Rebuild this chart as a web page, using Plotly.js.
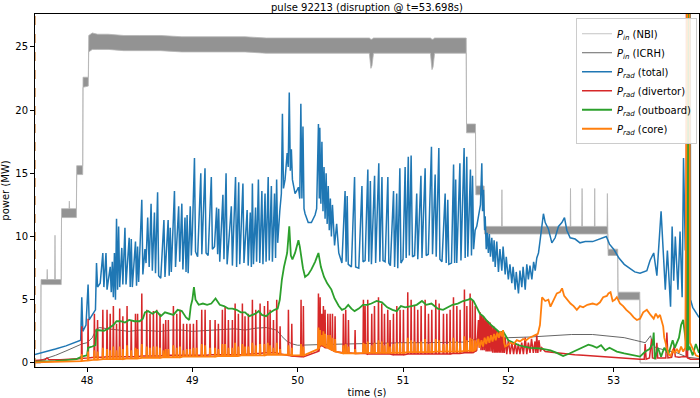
<!DOCTYPE html>
<html><head><meta charset="utf-8">
<script src="https://cdn.plot.ly/plotly-3.0.1.min.js"></script>
<style>html,body{margin:0;padding:0;background:#fff}#chart{width:700px;height:398px}</style>
</head><body><div id="chart"></div>
<script>
// ---------- NBI input power (oscillating band: lower / upper envelope) ----------
const nbiT = [47.50,47.561,47.563,47.619,47.622,47.625,47.693,47.696,47.699,47.755,47.758,47.829,47.832,47.835,47.899,47.902,47.959,47.962,48.012,48.016,48.05,48.10,48.20,48.35,48.50,48.70,48.90,49.10,49.30,49.50,49.70,49.90,50.10,50.30,50.50,50.68,50.695,50.705,50.72,50.90,51.10,51.26,51.275,51.285,51.30,51.45,51.600,51.603,51.688,51.691,51.770,51.773,51.936,51.939,51.942,52.20,52.45,52.587,52.590,52.593,52.697,52.700,52.703,52.817,52.820,52.823,52.937,52.940,52.944,52.947,53.038,53.041,53.248,53.251,53.81];
const nbiHi = [0,0,6.6,6.6,7.4,6.6,6.6,10.1,6.6,6.6,12.2,12.2,12.8,12.2,12.2,15.6,15.6,22.6,22.6,25.9,26.1,26.0,26.0,25.9,25.9,25.9,25.8,25.8,25.8,25.8,25.7,25.7,25.7,25.7,25.7,25.7,25.6,25.6,25.7,25.7,25.7,25.7,25.6,25.6,25.7,25.7,25.7,18.9,18.9,14.0,14.0,10.8,10.8,13.7,10.8,10.8,10.8,10.8,13.8,10.8,10.8,13.8,10.8,10.8,13.8,10.8,10.8,13.4,10.8,9.0,9.0,5.6,5.6,0,0];
const nbiLo = [0,0,6.2,6.2,6.2,6.2,6.2,6.2,6.2,6.2,11.5,11.5,11.5,11.5,11.5,14.9,14.9,21.8,21.9,24.6,24.8,24.8,24.8,24.7,24.7,24.7,24.6,24.6,24.6,24.6,24.5,24.5,24.5,24.5,24.5,24.5,23.3,23.5,24.5,24.5,24.5,24.5,23.2,23.4,24.5,24.5,24.5,18.2,18.2,13.3,13.3,10.2,10.2,10.2,10.2,10.2,10.2,10.2,10.2,10.2,10.2,10.2,10.2,10.2,10.2,10.2,10.2,10.2,10.2,8.5,8.5,5.0,5.0,0,0];

// ---------- ICRH input power ----------
const icrhT = [47.50,47.60,47.70,47.80,47.90,47.95,48.00,48.05,48.09,48.12,48.20,48.30,48.40,48.50,48.60,48.70,48.80,48.90,49.00,49.10,49.20,49.30,49.40,49.50,49.60,49.70,49.80,49.85,49.90,49.95,50.00,50.20,50.40,50.60,50.80,51.00,51.20,51.40,51.60,51.70,51.80,52.00,52.20,52.40,52.60,52.80,53.00,53.10,53.20,53.30,53.35,53.37,53.40,53.45,53.50,53.60,53.70,53.81];
const icrhY = [0.05,0.3,0.6,0.95,1.3,1.5,1.6,2.0,2.7,2.8,2.7,2.6,2.5,2.6,2.55,2.5,2.6,2.6,2.5,2.55,2.6,2.6,2.7,2.6,2.75,2.8,2.6,2.1,1.7,1.5,1.4,1.45,1.5,1.55,1.55,1.6,1.6,1.6,1.65,1.9,1.95,2.0,2.05,2.15,2.25,2.25,2.1,2.0,1.8,1.6,2.15,1.5,1.2,1.1,1.0,0.8,0.45,0.35];

// ---------- Prad total ----------
const totT = [47.50,47.60,47.70,47.80,47.90,47.94,47.95,47.96,47.99,48.01,48.02,48.05,48.08,48.09,48.10,48.125,48.15,48.16,48.18,48.19,48.22,48.23,48.24,48.25,48.26,48.27,48.28,48.29,48.30,48.31,48.33,48.34,48.36,48.37,48.40,48.41,48.42,48.43,48.46,48.47,48.48,48.49,48.52,48.53,48.55,48.56,48.576,48.59,48.608,48.62,48.64,48.65,48.67,48.68,48.70,48.73,48.74,48.77,48.78,48.79,48.80,48.83,48.84,48.87,48.88,48.90,48.91,48.93,48.94,48.95,48.96,48.98,48.99,49.00,49.02,49.03,49.05,49.08,49.09,49.12,49.13,49.15,49.18,49.19,49.21,49.23,49.24,49.25,49.26,49.29,49.30,49.32,49.33,49.37,49.38,49.41,49.42,49.44,49.45,49.48,49.49,49.52,49.53,49.55,49.56,49.57,49.58,49.60,49.61,49.627,49.64,49.66,49.67,49.69,49.70,49.72,49.73,49.75,49.76,49.78,49.79,49.80,49.81,49.83,49.845,49.855,49.865,49.88,49.90,49.91,49.92,49.93,49.94,49.95,49.975,49.99,50.007,50.02,50.03,50.04,50.05,50.06,50.07,50.10,50.13,50.165,50.18,50.197,50.205,50.21,50.22,50.23,50.24,50.25,50.26,50.27,50.28,50.29,50.30,50.31,50.32,50.33,50.35,50.37,50.39,50.42,50.45,50.46,50.47,50.48,50.51,50.54,50.55,50.58,50.61,50.62,50.64,50.666,50.675,50.69,50.70,50.73,50.74,50.77,50.78,50.80,50.81,50.83,50.856,50.865,50.88,50.91,50.92,50.94,50.95,50.97,50.98,51.00,51.02,51.03,51.05,51.06,51.077,51.09,51.11,51.13,51.14,51.17,51.18,51.21,51.22,51.24,51.27,51.28,51.305,51.315,51.34,51.35,51.37,51.40,51.41,51.425,51.435,51.46,51.48,51.49,51.50,51.51,51.54,51.55,51.58,51.59,51.605,51.615,51.64,51.65,51.66,51.67,51.685,51.70,51.716,51.735,51.748,51.755,51.764,51.775,51.78,51.79,51.80,51.81,51.82,51.83,51.843,51.855,51.865,51.875,51.89,51.906,51.92,51.938,51.95,51.97,51.98,52.00,52.015,52.033,52.045,52.065,52.075,52.096,52.11,52.128,52.14,52.16,52.175,52.19,52.205,52.223,52.24,52.255,52.27,52.286,52.30,52.318,52.333,52.35,52.38,52.413,52.444,52.476,52.508,52.533,52.555,52.587,52.634,52.68,52.73,52.80,52.87,52.90,52.93,52.96,53.00,53.05,53.10,53.15,53.20,53.25,53.315,53.345,53.38,53.41,53.45,53.49,53.51,53.54,53.555,53.57,53.585,53.61,53.63,53.65,53.663,53.68,53.70,53.71,53.715,53.725,53.73,53.75,53.78,53.81];
const totY = [0.65,0.85,1.1,1.35,1.65,1.8,5.2,2.5,3.0,6.2,3.4,3.8,4.2,7.9,6.0,6.3,8.7,6.0,8.7,5.8,7.6,5.6,8.0,5.2,8.7,5.0,11.4,5.8,10.8,6.0,9.1,6.2,10.7,6.2,9.9,6.0,9.8,6.0,9.6,6.1,9.2,6.4,12.9,7.0,9.0,7.9,11.5,7.6,12.6,7.3,11.9,7.1,13.5,6.9,6.7,11.3,6.8,11.3,6.9,10.7,7.2,13.6,7.6,12.4,8.0,12.6,7.4,11.5,7.2,11.7,7.1,12.4,8.5,10.3,16.2,8.8,8.4,15.0,8.6,15.4,8.7,8.5,14.7,9.0,9.2,12.3,8.6,12.2,8.0,13.3,8.2,15.0,7.8,12.4,7.7,14.7,7.6,14.3,7.8,14.2,7.9,12.1,7.7,11.9,7.6,14.2,7.8,12.3,8.0,14.5,7.9,13.6,7.8,13.4,8.0,14.7,8.1,14.0,8.0,13.4,8.3,14.5,9.5,12.0,13.4,19.7,13.8,14.5,16.6,15.5,21.4,15.2,16.9,14.5,13.4,13.6,13.9,13.0,20.5,13.0,18.7,12.2,11.8,11.1,11.1,11.7,12.2,18.9,13.0,18.6,12.6,17.5,12.0,15.5,11.4,15.0,11.0,14.0,10.5,13.0,10.0,12.5,9.3,11.0,8.7,7.9,13.6,8.0,13.2,7.8,7.6,14.7,7.6,7.5,14.0,8.0,8.1,15.3,8.0,14.4,7.8,14.8,7.9,15.8,8.0,14.7,8.1,8.0,14.7,7.9,7.7,13.6,7.6,13.4,7.5,15.4,7.9,8.2,15.5,8.3,16.3,8.5,16.4,8.4,8.5,13.4,8.2,14.8,8.3,15.4,8.5,8.6,17.1,8.6,14.9,8.4,17.0,8.2,8.0,13.4,7.9,12.9,7.8,7.9,15.7,7.9,14.5,7.9,15.8,8.1,17.0,8.3,16.3,8.4,15.3,8.5,14.8,9.0,10.5,10.8,11.5,12.5,15.8,12.0,13.7,10.5,11.6,9.0,10.3,8.7,10.2,8.4,9.9,8.0,9.7,7.6,9.6,7.2,9.0,7.3,9.2,7.0,8.4,6.6,7.8,6.3,7.6,5.8,7.2,5.5,7.3,6.0,7.6,5.8,7.8,6.6,7.7,6.6,8.0,7.3,8.3,8.7,9.6,10.6,11.8,11.1,10.6,9.5,9.9,10.8,11.1,11.5,10.5,9.9,9.8,9.5,9.6,9.6,9.8,9.9,10.0,9.4,9.0,8.3,7.8,7.5,7.2,7.1,7.3,8.1,8.7,6.9,12.0,5.8,8.9,4.45,10.8,6.5,10.0,5.8,10.4,5.2,16.2,8.9,14.7,6.0,40,40,5.0,4.4,4.0,3.6];

// ---------- ELM times shared by divertor and core channels ----------
const elmT = [47.950,48.010,48.070,48.100,48.150,48.190,48.220,48.250,48.280,48.310,48.340,48.380,48.420,48.460,48.480,48.520,48.567,48.598,48.630,48.662,48.693,48.725,48.747,48.772,48.820,48.852,48.883,48.915,48.947,48.978,49.010,49.041,49.089,49.121,49.168,49.216,49.247,49.285,49.311,49.342,49.380,49.406,49.437,49.475,49.500,49.532,49.570,49.602,49.643,49.684,49.716,49.738,49.770,49.801,49.833,49.912,49.944,50.032,50.054,50.197,50.213,50.229,50.244,50.260,50.286,50.308,50.330,50.355,50.434,50.456,50.482,50.545,50.624,50.640,50.665,50.703,50.729,50.767,50.798,50.824,50.855,50.877,50.909,50.941,50.972,51.004,51.045,51.077,51.109,51.140,51.172,51.210,51.242,51.273,51.311,51.343,51.384,51.416,51.447,51.479,51.511,51.542,51.583,51.606,51.637,51.659,51.685];

// ---------- Prad divertor ----------
const divPreT = [47.50,47.60,47.62,47.64,47.75,47.85,47.93];
const divPreY = [0.2,0.25,0.4,0.25,0.25,0.3,0.35];
const divPeak = [2.9,3.5,3.9,3.4,4.2,4.2,3.9,4.5,3.1,4.3, 3.7,4.5,3.4,3.9,3.9,5.5,4.2,3.9,4.1,4.2, 3.9,3.1,3.4,3.4,4.5,3.9,4.2,3.1,3.1,3.1, 3.1,3.4,4.2,4.2,3.4,3.4,3.1,4.2,4.5,3.4, 3.4,4.7,3.9,4.7,3.7,3.9,5.0,4.2,4.7,4.5, 4.9,4.2,3.4,5.0,2.9,4.2,3.1,5.0,4.5,5.5, 5.2,3.9,4.5,4.2,3.9,3.9,3.9,3.7,3.9,4.2, 3.4,2.6,5.0,4.5,5.0,3.9,4.5,5.2,4.7,3.9, 4.2,3.4,3.9,4.5,4.2,4.2,5.6,5.0,4.5,4.2, 4.5,5.0,3.9,4.2,5.0,4.7,3.9,3.9,4.2,5.2, 4.5,4.2,5.8,4.5,5.5,5.0,4.5];
const divBase = [0.35,0.4,0.45,0.45,0.45,0.5,0.5,0.5,0.5,0.5, 0.5,0.5,0.5,0.5,0.5,0.55,0.55,0.55,0.55,0.55, 0.55,0.6,0.6,0.6,0.6,0.6,0.6,0.6,0.6,0.6, 0.6,0.6,0.6,0.6,0.65,0.65,0.65,0.65,0.65,0.65, 0.65,0.65,0.65,0.65,0.65,0.7,0.7,0.75,0.75,0.8, 0.8,0.8,0.8,0.8,0.7,0.6,0.55,0.5,0.5,0.9, 1.3,1.4,1.3,1.2,1.2,1.1,1.0,0.9,0.8,0.8, 0.8,0.75,0.75,0.75,0.7,0.7,0.7,0.7,0.7,0.7, 0.7,0.7,0.65,0.65,0.65,0.65,0.7,0.7,0.7,0.7, 0.7,0.7,0.7,0.7,0.7,0.7,0.7,0.7,0.7,0.75, 0.75,0.75,0.8,0.8,0.8,0.8,0.9];
const divPostT = [51.700,51.716,51.724,51.732,51.740,51.748,51.756,51.764,51.772,51.780,51.788,51.795,51.803,51.810,51.818,51.827,51.835,51.843,51.851,51.860,51.868,51.875,51.883,51.890,51.898,51.906,51.914,51.920,51.929,51.938,51.946,51.954,51.962,51.970,51.985,52.000,52.017,52.033,52.050,52.065,52.080,52.095,52.110,52.127,52.143,52.160,52.175,52.190,52.206,52.220,52.237,52.253,52.262,52.270,52.280,52.290,52.305,52.317,52.35,52.40,52.48,52.55,52.63,52.71,52.79,52.87,52.95,53.03,53.11,53.19,53.25,53.290,53.299,53.308,53.340,53.360,53.368,53.400,53.410,53.418,53.460,53.495,53.505,53.515,53.550,53.575,53.585,53.620,53.660,53.688,53.692,53.697,53.702,53.73,53.76,53.81];
const divPostY = [1.0,3.4,1.2,4.0,1.0,3.8,1.0,3.7,1.0,3.5,0.9,3.4,0.9,3.3,0.9,3.2,0.9,3.0,0.8,2.9,0.8,2.7,0.8,2.6,0.8,2.5,0.8,2.4,0.8,2.3,0.8,2.2,0.8,2.0,0.7,1.8,0.7,1.6,0.7,1.6,0.7,1.5,0.7,1.6,0.7,2.0,0.7,1.6,0.8,1.9,0.8,1.7,0.8,2.2,0.8,1.8,0.9,1.2,0.9,0.85,0.75,0.7,0.65,0.6,0.55,0.5,0.5,0.45,0.4,0.35,0.3,0.3,1.5,0.3,0.4,1.9,0.4,0.35,1.6,0.4,0.4,0.4,2.4,0.4,0.45,1.3,0.5,0.45,0.5,0.5,40,40,0.4,0.3,0.3,0.3];

// ---------- Prad outboard ----------
const outT = [47.50,47.70,47.90,47.95,48.00,48.01,48.05,48.08,48.09,48.12,48.16,48.20,48.25,48.28,48.32,48.36,48.40,48.45,48.50,48.53,48.55,48.58,48.62,48.66,48.70,48.74,48.78,48.82,48.86,48.90,48.94,48.97,48.985,49.00,49.015,49.03,49.06,49.10,49.14,49.18,49.22,49.26,49.30,49.34,49.38,49.42,49.46,49.50,49.54,49.57,49.60,49.63,49.66,49.70,49.74,49.78,49.81,49.83,49.85,49.87,49.90,49.92,49.935,49.95,49.975,50.007,50.02,50.05,50.07,50.10,50.13,50.165,50.197,50.22,50.25,50.28,50.32,50.35,50.39,50.42,50.45,50.48,50.51,50.54,50.58,50.62,50.66,50.70,50.75,50.80,50.85,50.90,50.94,50.98,51.02,51.08,51.13,51.18,51.22,51.27,51.33,51.38,51.42,51.47,51.52,51.57,51.62,51.64,51.67,51.70,51.73,51.76,51.80,51.85,51.89,51.92,51.95,51.97,52.00,52.05,52.10,52.15,52.21,52.30,52.40,52.46,52.52,52.58,52.64,52.71,52.76,52.80,52.84,52.88,52.92,52.96,53.03,53.10,53.19,53.25,53.30,53.34,53.37,53.38,53.39,53.42,53.45,53.48,53.52,53.56,53.58,53.62,53.64,53.66,53.68,53.698,53.701,53.706,53.710,53.72,53.75,53.78,53.81];
const outY = [0.1,0.15,0.3,0.5,0.6,1.2,1.3,1.4,2.6,2.6, 2.55,2.7,3.0,3.3,3.3,3.2,3.4,3.3,3.3,3.5, 4.0,4.1,3.9,4.1,3.7,4.0,3.9,3.8,4.2,4.1, 3.6,3.4,4.5,5.0,6.0,5.0,4.6,4.7,4.6,4.7, 5.1,4.6,4.5,4.3,4.3,4.2,4.0,4.0,3.7,3.8, 3.9,4.1,3.8,3.7,4.0,4.2,4.3,5.0,6.6,7.6, 8.7,10.8,8.5,8.2,8.7,9.7,9.2,7.5,6.8,7.0, 7.4,8.0,8.7,7.6,6.8,6.3,5.8,5.1,4.5,4.2, 4.3,4.6,4.3,4.1,4.3,4.6,4.6,4.7,4.9,4.8, 4.4,4.2,4.1,4.5,4.4,4.5,4.6,4.9,4.6,4.7, 4.3,4.2,4.4,4.6,4.7,4.9,5.0,5.1,4.9,4.4, 3.9,3.7,3.3,2.9,2.6,2.4,2.5,2.2,1.8,1.6, 1.4,1.3,1.2,1.15,1.0,0.8,0.55,0.75,1.0,1.3, 1.45,1.35,1.2,1.4,1.0,1.2,0.9,0.75,0.6,0.5, 0.9,1.1,1.5,2.4,0.3,1.2,0.5,1.2,0.7,1.8, 1.2,2.0,3.0,3.4,2.0,1.0,40,40,1.0,1.3, 0.6,1.5,0.8];

// ---------- Prad core ----------
const corePreT = [47.50,47.70,47.90,47.94];
const corePreY = [0.05,0.08,0.1,0.12];
const corePeak = [0.7,0.9,1.0,0.9,1.2,1.1,1.0,1.3,1.0,1.3, 1.1,1.4,1.0,1.2,1.1,1.5,1.3,1.2,1.3,1.3, 1.2,1.0,1.1,1.1,1.4,1.2,1.3,1.0,1.1,1.1, 1.2,1.2,1.5,1.4,1.2,1.2,1.1,1.5,1.5,1.2, 1.2,1.6,1.3,1.5,1.3,1.3,1.6,1.4,1.5,1.5, 1.6,1.4,1.2,1.6,1.1,1.4,1.2,1.5,1.3,2.8, 2.6,2.2,2.5,2.3,2.2,2.2,2.0,1.9,1.4,1.5, 1.3,1.1,1.6,1.5,1.7,1.4,1.6,1.8,1.7,1.4, 1.6,1.3,1.5,1.6,1.6,1.6,2.0,1.8,1.7,1.6, 1.7,1.9,1.5,1.6,1.9,1.8,1.5,1.5,1.7,2.0, 1.7,1.6,2.1,1.8,2.0,1.9,1.8];
const coreBase = [0.15,0.2,0.25,0.25,0.3,0.3,0.3,0.3,0.3,0.3, 0.3,0.35,0.35,0.35,0.35,0.4,0.4,0.4,0.4,0.4, 0.4,0.45,0.45,0.45,0.45,0.45,0.45,0.5,0.5,0.5, 0.5,0.5,0.5,0.5,0.5,0.5,0.55,0.55,0.55,0.55, 0.55,0.55,0.55,0.6,0.6,0.6,0.6,0.6,0.6,0.6, 0.65,0.65,0.65,0.65,0.65,0.65,0.6,0.6,0.6,1.1, 1.4,1.5,1.4,1.3,1.2,1.1,1.0,0.9,0.75,0.75, 0.75,0.75,0.8,0.8,0.8,0.8,0.8,0.8,0.8,0.8, 0.8,0.8,0.8,0.8,0.8,0.8,0.85,0.85,0.85,0.85, 0.85,0.85,0.85,0.85,0.9,0.9,0.9,0.9,0.9,0.9, 0.9,0.9,0.95,0.95,0.95,0.95,1.0];
const corePostT = [51.700,51.715,51.728,51.745,51.760,51.775,51.790,51.805,51.820,51.835,51.850,51.865,51.880,51.895,51.910,51.925,51.940,51.950,51.960,51.970,51.990,52.020,52.050,52.080,52.110,52.140,52.170,52.200,52.230,52.260,52.280,52.300,52.320,52.350,52.380,52.400,52.430,52.460,52.490,52.510,52.530,52.560,52.590,52.620,52.650,52.680,52.710,52.750,52.800,52.840,52.870,52.900,52.935,52.950,52.970,52.990,53.010,53.030,53.060,53.090,53.120,53.160,53.190,53.220,53.250,53.280,53.300,53.315,53.350,53.380,53.400,53.420,53.440,53.470,53.480,53.500,53.520,53.540,53.560,53.580,53.600,53.620,53.640,53.660,53.680,53.705,53.708,53.720,53.724,53.740,53.760,53.780,53.810];
const corePostY = [1.4,1.9,1.2,1.8,1.3,2.0,1.5,2.1,1.6,2.2,1.7,2.3,1.8,2.4,2.0,2.5,2.1,2.6,1.6,1.3,1.4,1.6,1.5,1.8,1.7,1.9,1.8,2.0,2.1,2.2,2.3,3.0,5.2,4.9,5.0,4.45,5.0,5.5,5.6,5.9,5.3,5.0,4.7,4.5,4.2,4.5,4.4,4.6,4.7,4.6,4.8,5.2,5.3,5.5,5.6,4.9,5.0,5.2,4.7,4.5,4.2,3.9,3.6,3.4,3.5,4.0,4.1,4.2,3.8,3.5,3.9,3.6,3.8,2.9,2.0,1.3,0.7,0.55,1.0,0.8,1.1,0.8,1.3,0.9,1.2,40,40,40,1.6,1.3,0.9,0.6,0.5];

// ---------- labels ----------
const chartTitle = 'pulse 92213 (disruption @ t=53.698s)';
const xTitle = 'time (s)';
const yTitle = 'power (MW)';
const xTicks = [48,49,50,51,52,53];
const yTicks = [0,5,10,15,20,25];
const names = ['<i>P</i><sub><i>in</i></sub> (NBI)','<i>P</i><sub><i>in</i></sub> (ICRH)','<i>P</i><sub><i>rad</i></sub> (total)','<i>P</i><sub><i>rad</i></sub> (divertor)','<i>P</i><sub><i>rad</i></sub> (outboard)','<i>P</i><sub><i>rad</i></sub> (core)'];

// build ELM-phase series (each ELM: base, peak, base)
const halfWidth = 0.004;
function withElms(preT, preY, peak, base, postT, postY) {
  const x = preT.slice(), y = preY.slice();
  elmT.forEach((s, i) => { x.push(s - halfWidth, s, s + halfWidth); y.push(base[i], peak[i], base[i]); });
  return {x: x.concat(postT), y: y.concat(postY)};
}
const div = withElms(divPreT, divPreY, divPeak, divBase, divPostT, divPostY);
const core = withElms(corePreT, corePreY, corePeak, coreBase, corePostT, corePostY);

const FONT = 'DejaVu Sans, sans-serif';
const traces = [
  {x: nbiT, y: nbiHi, name: names[0], mode: 'lines', line: {color: '#b5b5b5', width: 0.8}},
  {x: nbiT, y: nbiLo, name: names[0], mode: 'lines', line: {color: '#b5b5b5', width: 0.8}, fill: 'tonexty', fillcolor: 'rgba(128,128,128,0.85)', showlegend: false},
  {x: icrhT, y: icrhY, name: names[1], mode: 'lines', line: {color: '#555555', width: 0.9}},
  {x: totT, y: totY, name: names[2], mode: 'lines', line: {color: '#1f77b4', width: 1.5}},
  {x: div.x, y: div.y, name: names[3], mode: 'lines', line: {color: '#d62728', width: 1.5}},
  {x: outT, y: outY, name: names[4], mode: 'lines', line: {color: '#2ca02c', width: 1.8}},
  {x: core.x, y: core.y, name: names[5], mode: 'lines', line: {color: '#ff7f0e', width: 1.8}}
];

const axisCommon = {
  ticks: 'outside', ticklen: 4, tickwidth: 1, tickcolor: '#000',
  showline: true, linecolor: '#000', linewidth: 1, mirror: true,
  showgrid: false, zeroline: false,
  tickfont: {family: FONT, size: 10, color: '#000'}
};
const layout = {
  width: 700, height: 398,
  margin: {l: 35, r: 1, t: 14, b: 31},
  paper_bgcolor: '#fff', plot_bgcolor: '#fff',
  font: {family: FONT, size: 10, color: '#000'},
  title: {text: chartTitle, font: {family: FONT, size: 10, color: '#000'}, x: 0.5, xref: 'paper', y: 0.982, yref: 'container', yanchor: 'middle'},
  xaxis: Object.assign({}, axisCommon, {range: [47.506, 53.81], tickvals: xTicks, ticktext: xTicks.map(String),
    title: {text: xTitle, font: {family: FONT, size: 10, color: '#000'}, standoff: 3}}),
  yaxis: Object.assign({}, axisCommon, {range: [-0.32, 27.6], tickvals: yTicks, ticktext: yTicks.map(String),
    title: {text: yTitle, font: {family: FONT, size: 10, color: '#000'}, standoff: 4}}),
  showlegend: true,
  legend: {x: 0.997, y: 0.988, xanchor: 'right', yanchor: 'top', bgcolor: 'rgba(255,255,255,0.85)',
    bordercolor: '#cccccc', borderwidth: 1, font: {family: FONT, size: 10, color: '#000'},
    traceorder: 'normal', tracegroupgap: 0},
  shapes: [{type: 'line', xref: 'x', yref: 'paper', x0: 47.507, x1: 47.507, y0: 0, y1: 1,
    line: {color: '#c8782e', width: 1, dash: 'dash'}, layer: 'above'}]
};
Plotly.newPlot('chart', traces, layout, {displayModeBar: false, staticPlot: true});
</script>
</body></html>
